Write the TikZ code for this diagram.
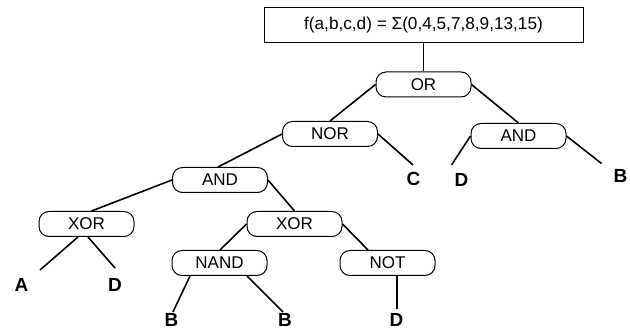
\documentclass[tikz,border=0pt]{standalone}
\usepackage{fontspec}
\setmainfont{Liberation Sans}
\begin{document}
\begin{tikzpicture}[x=1pt,y=-1pt,
  gate/.style={draw, line width=1pt, rounded corners=10pt, minimum width=95pt, minimum height=25pt, inner sep=0pt, font=\fontsize{17}{19}\selectfont},
  leaf/.style={inner sep=0pt, font=\fontsize{19}{21}\selectfont\bfseries},
  wire/.style={line width=1.6pt}]
\useasboundingbox (0,0) rectangle (630,331);
\node[draw, line width=1pt, minimum width=319pt, minimum height=35pt, inner sep=0pt, font=\fontsize{17.2}{19}\selectfont] (F) at (423.5,25.5) {f(a,b,c,d) = Σ(0,4,5,7,8,9,13,15)};
% gates
\node[gate] (OR)   at (423.5,84.5) {OR};
\node[gate] (NOR)  at (330,134) {NOR};
\node[gate] (ANDr) at (518.5,136) {AND};
\node[gate] (ANDm) at (220,180) {AND};
\node[gate] (XORl) at (86.5,224) {XOR};
\node[gate] (XORr) at (294.5,224) {XOR};
\node[gate] (NAND) at (219.5,263) {NAND};
\node[gate] (NOT)  at (387.5,263) {NOT};
% leaves
\node[leaf] (C)  at (413.5,178.5) {C};
\node[leaf] (D1) at (461.5,180) {D};
\node[leaf] (B1) at (620.5,175.5) {B};
\node[leaf] (A)  at (21.5,285) {A};
\node[leaf] (D2) at (115,285) {D};
\node[leaf] (B2) at (171.5,320) {B};
\node[leaf] (B3) at (285,320) {B};
\node[leaf] (D3) at (396.5,320) {D};
% connectors
\draw[wire] (F.south) -- (OR.north);
\draw[wire] (OR.west) -- (NOR.north);
\draw[wire] (OR.east) -- (ANDr.north);
\draw[wire] (NOR.west) -- ([xshift=-2pt]ANDm.north);
\draw[wire] (NOR.east) -- ([xshift=-0.5pt,yshift=13.5pt]C.center);
\draw[wire] (ANDr.west) -- ([xshift=-10pt,yshift=15pt]D1.center);
\draw[wire] (ANDr.east) -- ([xshift=-19pt,yshift=12pt]B1.center);
\draw[wire] (ANDm.west) -- ([xshift=5pt]XORl.north);
\draw[wire] (ANDm.east) -- (XORr.north);
\draw[wire] ([xshift=-8.5pt]XORl.south) -- ([xshift=18.5pt,yshift=15pt]A.center);
\draw[wire] ([xshift=1.5pt]XORl.south) -- ([yshift=17pt]D2.center);
\draw[wire] (XORr.west) -- ([xshift=0.5pt]NAND.north);
\draw[wire] (XORr.east) -- ([xshift=-19.5pt]NOT.north);
\draw[wire] ([xshift=-29.5pt]NAND.south) -- ([xshift=1.5pt,yshift=8pt]B2.center);
\draw[wire] ([xshift=27.5pt]NAND.south) -- ([xshift=-2pt,yshift=8pt]B3.center);
\draw[wire] ([xshift=9.5pt]NOT.south) -- ([xshift=0.5pt,yshift=11pt]D3.center);
\end{tikzpicture}
\end{document}
